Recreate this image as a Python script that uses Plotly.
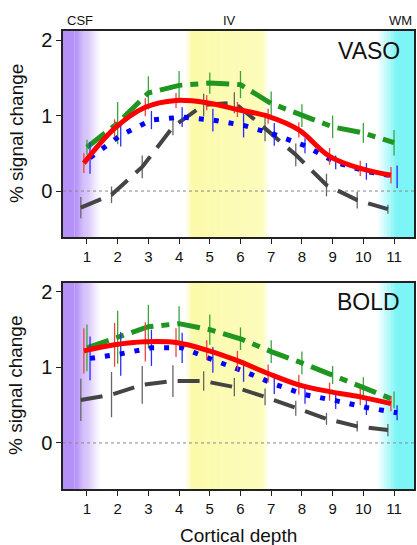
import numpy as np
import plotly.graph_objects as go

depth = np.arange(1, 12)
tick_labels = [str(i) for i in depth]

# offsets of each series along depth (as drawn)
offsets = {"gray": -0.2, "red": -0.1, "green": 0.0, "blue": 0.1}

vaso_red = [0.37, 0.83, 1.11, 1.20, 1.17, 1.08, 0.99, 0.81, 0.46, 0.30, 0.21]
vaso_green = [0.58, 0.90, 1.30, 1.40, 1.43, 1.41, 1.16, 1.00, 0.85, 0.77, 0.64]
vaso_blue = [0.44, 0.74, 0.94, 0.98, 0.94, 0.87, 0.75, 0.60, 0.38, 0.26, 0.19]
vaso_gray = [-0.22, -0.05, 0.32, 0.85, 1.14, 1.17, 0.83, 0.48, 0.08, -0.12, -0.24]

vaso_red_err = [0.13, 0.12, 0.12, 0.10, 0.10, 0.10, 0.10, 0.10, 0.11, 0.10, 0.11]
vaso_green_err = [0.10, 0.28, 0.22, 0.19, 0.14, 0.18, 0.16, 0.15, 0.15, 0.13, 0.17]
vaso_blue_err = [0.21, 0.15, 0.12, 0.13, 0.15, 0.16, 0.15, 0.10, 0.09, 0.11, 0.15]
vaso_gray_err = [0.14, 0.11, 0.15, 0.11, 0.15, 0.14, 0.17, 0.15, 0.15, 0.11, 0.06]

bold_red = [1.22, 1.30, 1.34, 1.33, 1.23, 1.09, 0.92, 0.77, 0.68, 0.61, 0.52]
bold_green = [1.26, 1.40, 1.54, 1.58, 1.50, 1.38, 1.21, 1.06, 0.90, 0.74, 0.57]
bold_blue = [1.12, 1.18, 1.26, 1.26, 1.10, 0.95, 0.78, 0.64, 0.56, 0.47, 0.40]
bold_gray = [0.57, 0.64, 0.77, 0.82, 0.82, 0.74, 0.61, 0.46, 0.32, 0.22, 0.17]

bold_red_err = [0.30, 0.29, 0.26, 0.19, 0.13, 0.13, 0.12, 0.13, 0.12, 0.11, 0.10]
bold_green_err = [0.31, 0.35, 0.29, 0.23, 0.20, 0.15, 0.15, 0.15, 0.12, 0.13, 0.11]
bold_blue_err = [0.29, 0.29, 0.24, 0.20, 0.17, 0.14, 0.13, 0.12, 0.11, 0.10, 0.10]
bold_gray_err = [0.28, 0.30, 0.25, 0.21, 0.13, 0.12, 0.11, 0.10, 0.08, 0.07, 0.08]

FONT = "Liberation Sans, Arial, Helvetica, sans-serif"

styles = {
    "gray": dict(color="#444444", err="#666666", width=4, dash="22px,11px", shape="linear"),
    "green": dict(color="#1f961f", err="#3aa63a", width=5, dash="23px,8px,8px,8px", shape="linear"),
    "blue": dict(color="#0000ff", err="#2b2bff", width=5, dash="5px,10px", shape="linear"),
    "red": dict(color="#ff0000", err="#f04040", width=5, dash="solid", shape="spline"),
}

panels = [
    ("x", "y", {"gray": (vaso_gray, vaso_gray_err), "green": (vaso_green, vaso_green_err),
                "blue": (vaso_blue, vaso_blue_err), "red": (vaso_red, vaso_red_err)}),
    ("x2", "y2", {"gray": (bold_gray, bold_gray_err), "green": (bold_green, bold_green_err),
                  "blue": (bold_blue, bold_blue_err), "red": (bold_red, bold_red_err)}),
]

fig = go.Figure()
for xa, ya, series in panels:
    for name in ["gray", "green", "blue", "red"]:
        vals, errs = series[name]
        st = styles[name]
        fig.add_trace(go.Scatter(
            x=depth + offsets[name], y=vals, xaxis=xa, yaxis=ya, mode="lines",
            line=dict(color=st["color"], width=st["width"], dash=st["dash"], shape=st["shape"]),
            error_y=dict(type="data", array=errs, visible=True, color=st["err"],
                         thickness=1.3, width=0),
            showlegend=False, hoverinfo="skip"))

# background bands (gradients) -------------------------------------------
XMIN, XMAX = 0.22, 11.65
PURPLE = (180, 144, 247)
YELLOW = (251, 250, 170)
CYAN = (125, 245, 247)
WHITE = (255, 255, 255)

def mix(c1, c2, t):
    return "rgb(%d,%d,%d)" % tuple(round(a + (b - a) * t) for a, b in zip(c1, c2))

def gradient(xref, yref, x0, x1, c0, c1, n=24):
    edges = np.linspace(x0, x1, n + 1)
    for i in range(n):
        t = (i + 0.5) / n
        fig.add_shape(type="rect", xref=xref, yref=yref + " domain", x0=edges[i], x1=edges[i + 1] + 0.01,
                      y0=0, y1=1, fillcolor=mix(c0, c1, t), line_width=0, layer="below")

def solid(xref, yref, x0, x1, c):
    fig.add_shape(type="rect", xref=xref, yref=yref + " domain", x0=x0, x1=x1, y0=0, y1=1,
                  fillcolor=mix(c, c, 0), line_width=0, layer="below")

for xa, ya, _ in panels:
    solid(xa, ya, XMIN, 0.6, PURPLE)
    gradient(xa, ya, 0.6, 1.45, PURPLE, WHITE)
    gradient(xa, ya, 4.2, 4.42, WHITE, YELLOW, n=6)
    gradient(xa, ya, 4.42, 6.72, YELLOW, (252, 252, 188), n=12)
    gradient(xa, ya, 6.72, 6.92, (252, 252, 188), WHITE, n=6)
    gradient(xa, ya, 10.45, 11.05, WHITE, CYAN)
    solid(xa, ya, 11.05, XMAX, CYAN)
    fig.add_shape(type="line", xref=xa, yref=ya, x0=XMIN, x1=XMAX, y0=0, y1=0,
                  line=dict(color="#888888", width=1, dash="dot"), layer="below")

axis_common = dict(range=[XMIN, XMAX], tickvals=list(depth), ticktext=tick_labels,
                   ticks="outside", ticklen=5, tickwidth=1.2, tickcolor="#222",
                   showline=True, linecolor="#222", linewidth=1.5, mirror=True,
                   showgrid=False, zeroline=False,
                   tickfont=dict(size=15, family=FONT, color="#111"))
yaxis_common = dict(range=[-0.61, 2.12], tickvals=[0, 1, 2], ticks="outside", ticklen=5,
                    tickwidth=1.2, tickcolor="#222", showline=True, linecolor="#222",
                    linewidth=1.5, mirror=True, showgrid=False, zeroline=False,
                    tickfont=dict(size=20, family=FONT, color="#111"))

W, H = 417, 545
ML, MR, MT, MB = 63, 1, 31, 56

fig.update_layout(
    width=W, height=H,
    margin=dict(l=ML, r=MR, t=MT, b=MB),
    paper_bgcolor="white", plot_bgcolor="white",
    font=dict(family=FONT),
    xaxis=dict(**axis_common, anchor="y"),
    yaxis=dict(**yaxis_common, domain=[0.55, 1.0], anchor="x"),
    xaxis2=dict(**axis_common, anchor="y2"),
    yaxis2=dict(**yaxis_common, domain=[0.0, 0.45], anchor="x2"),
)

for ya in ["y", "y2"]:
    fig.add_annotation(text="% signal change", x=0, xref="paper", y=0.5, yref=ya + " domain",
                       xanchor="center", yanchor="middle", xshift=-(ML - 16), textangle=-90,
                       showarrow=False, font=dict(size=19, family=FONT, color="#111"))

fig.add_annotation(text="Cortical depth", x=0.5, xref="x2 domain", y=0, yref="paper",
                   xanchor="center", yanchor="middle", yshift=-46, showarrow=False,
                   font=dict(size=19, family=FONT, color="#111"))

annots = [("CSF", 0.0, "left", "x domain"), ("IV", 5.63, "center", "x"),
          ("WM", 1.0, "right", "x domain")]
for text, xv, anchor, xr in annots:
    fig.add_annotation(text=text, x=xv, xref=xr, y=1.0, yref="paper", yanchor="middle",
                       yshift=11, xanchor=anchor, showarrow=False, xshift=(2 if anchor == "left" else 0),
                       font=dict(size=13, family=FONT, color="#111"))

for xr, yr, label in [("x domain", "y domain", "VASO"), ("x2 domain", "y2 domain", "BOLD")]:
    fig.add_annotation(text=label, x=0.966, xref=xr, y=0.905, yref=yr,
                       xanchor="right", yanchor="middle", showarrow=False,
                       font=dict(size=23, family=FONT, color="#111"))

# remove the default page margin so the 417x545 figure fills the window exactly
fig.write_html("out.html", config={"displayModeBar": False},
               post_script="document.body.style.margin='0';document.body.style.overflow='hidden';")
